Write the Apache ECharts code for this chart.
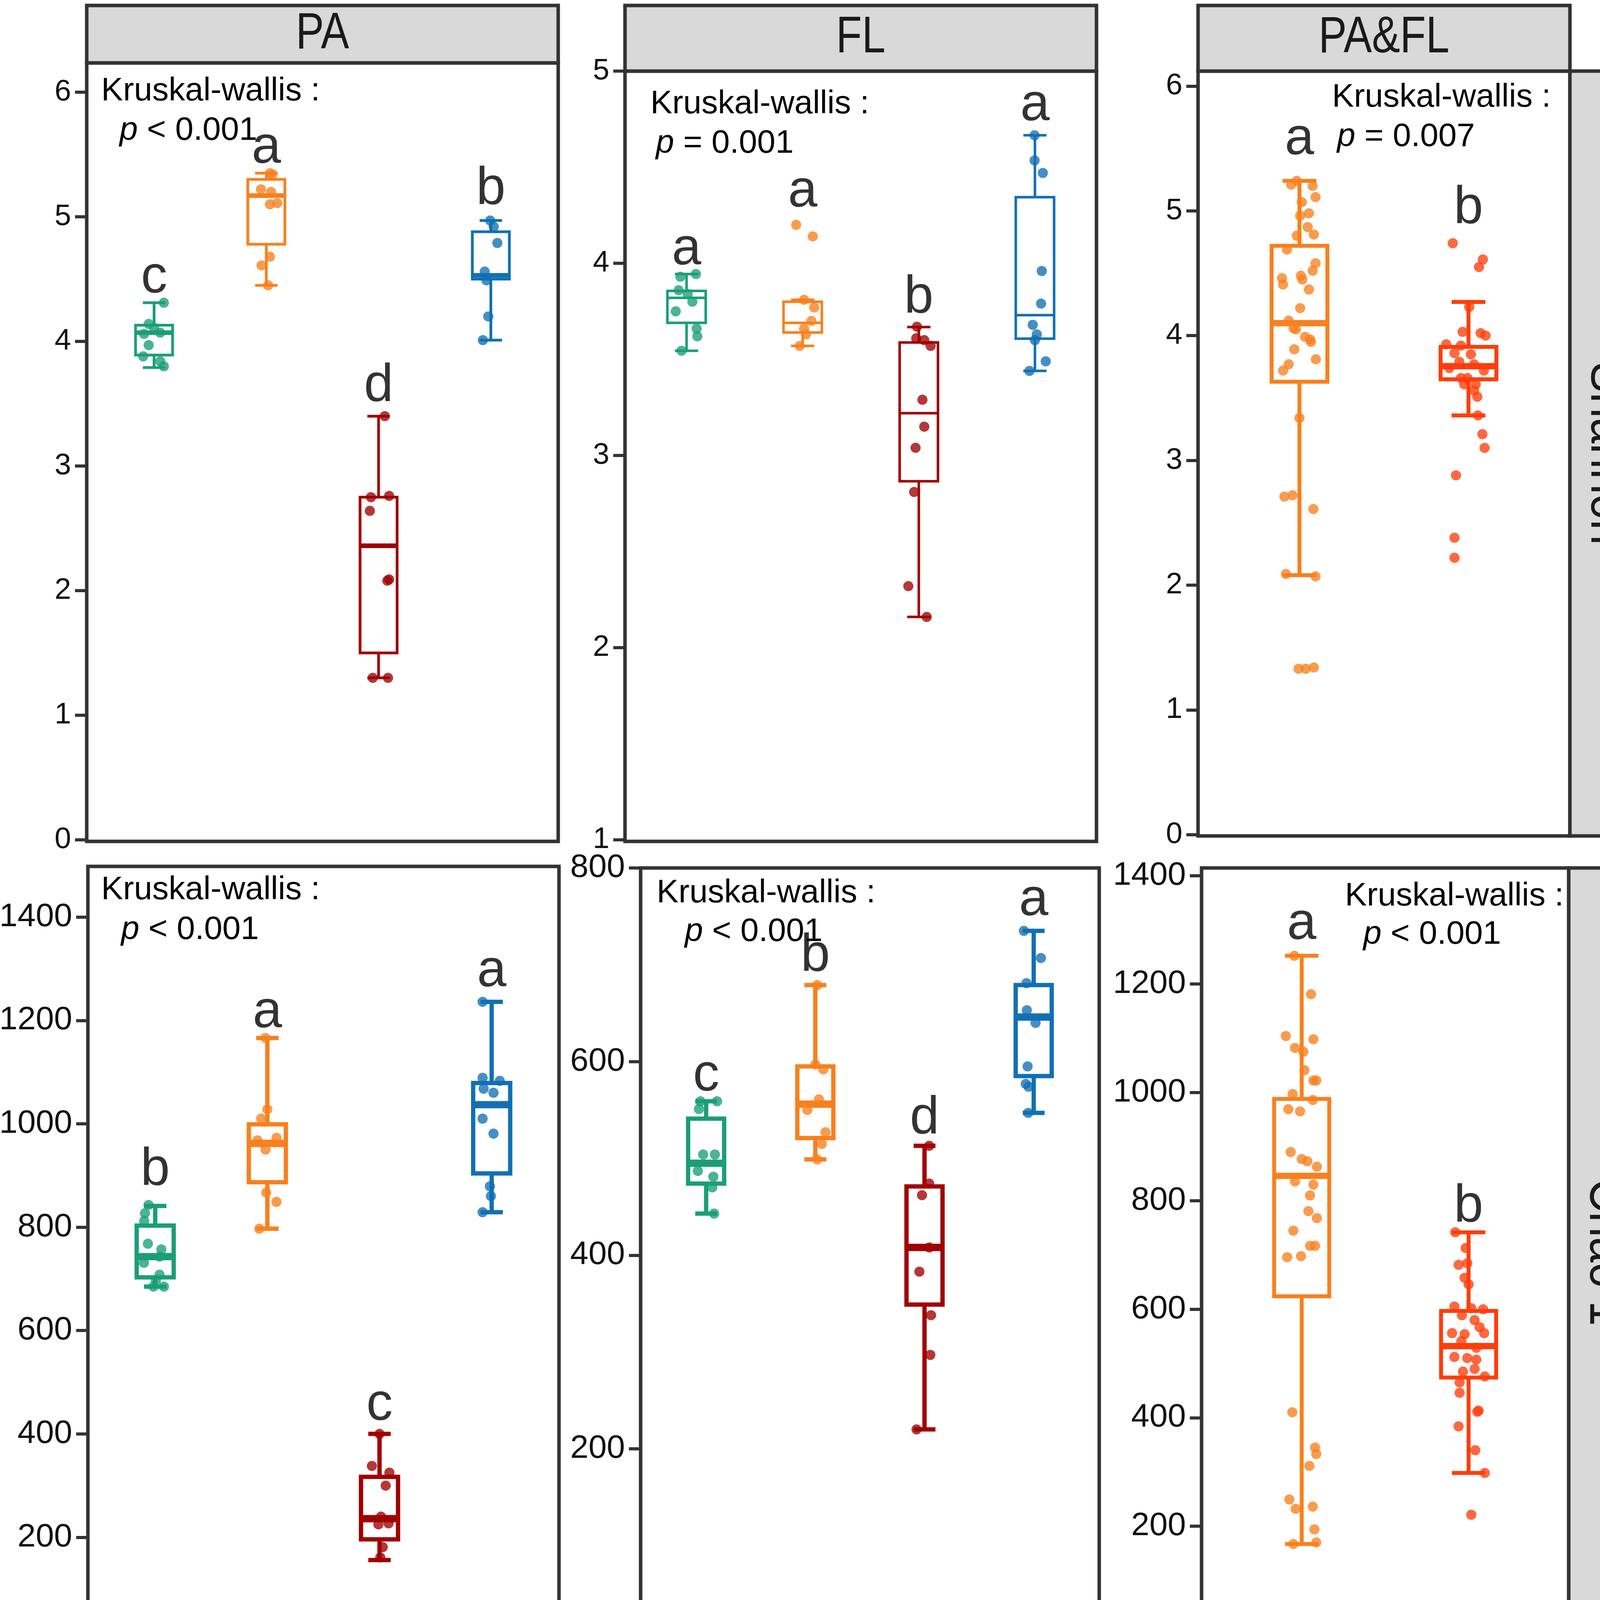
<!DOCTYPE html>
<html>
<head>
<meta http-equiv="Content-Type" content="text/html; charset=utf-8" />
<title>alpha diversity</title>
<style type="text/css">
html, body { margin: 0; width: 100%; height: 100%; background: #fff; overflow: hidden; }
#main { width: 4212px; height: 4536px; }
</style>
</head>
<body>
<div id="main"></div>
<script src="https://cdn.jsdelivr.net/npm/echarts@6/dist/echarts.min.js"></script>
<script>
// categories
var seasons = ['Spring', 'Summer', 'Autumn', 'Winter'];
var fractions = ['PA', 'FL'];

// y tick labels
var shannonPATicks = [0, 1, 2, 3, 4, 5, 6];
var shannonFLTicks = [1, 2, 3, 4, 5];
var shannonAllTicks = [0, 1, 2, 3, 4, 5, 6];
var chaoPATicks = [0, 200, 400, 600, 800, 1000, 1200, 1400];
var chaoFLTicks = [0, 200, 400, 600, 800];
var chaoAllTicks = [0, 200, 400, 600, 800, 1000, 1200, 1400];

// box stats: [lower whisker, Q1, median, Q3, upper whisker]
var shannonPABox = [
    [3.79, 3.89, 4.07, 4.13, 4.31],
    [4.45, 4.78, 5.17, 5.30, 5.35],
    [1.30, 1.50, 2.36, 2.75, 3.40],
    [4.01, 4.50, 4.53, 4.88, 4.97]
];
var shannonPAPts = [
    [4.31, 4.14, 4.11, 4.06, 4.07, 3.97, 3.88, 3.84, 3.80],
    [5.35, 5.34, 5.22, 5.20, 5.10, 5.11, 4.68, 4.61, 4.45],
    [3.40, 2.75, 2.76, 2.64, 2.08, 2.09, 1.30, 1.30],
    [4.97, 4.92, 4.79, 4.56, 4.49, 4.20, 4.01]
];
var shannonPAJit = [
    [0.087, -0.048, 0, -0.09, 0.055, -0.048, -0.097, 0.055, 0.087],
    [0.032, 0.055, -0.048, 0.042, 0.032, 0.097, 0.032, -0.042, 0.016],
    [0.055, -0.068, 0.094, -0.078, 0.078, 0.094, -0.052, 0.084],
    [-0.006, 0.026, 0.058, -0.055, -0.039, -0.023, -0.071]
];
var shannonPALetters = ['c', 'a', 'd', 'b'];
var shannonPALetterY = [4.51, 5.55, 3.64, 5.22];

var shannonFLBox = [
    [3.545, 3.69, 3.82, 3.856, 3.944],
    [3.57, 3.64, 3.69, 3.80, 3.81],
    [2.16, 2.866, 3.22, 3.588, 3.668],
    [3.44, 3.608, 3.73, 4.344, 4.666]
];
var shannonFLPts = [
    [3.93, 3.944, 3.86, 3.84, 3.80, 3.75, 3.66, 3.62, 3.545],
    [4.20, 4.14, 3.81, 3.77, 3.70, 3.66, 3.63, 3.57],
    [3.67, 3.61, 3.60, 3.57, 3.29, 3.15, 3.04, 2.81, 2.32, 2.16],
    [4.666, 4.535, 4.47, 3.96, 3.79, 3.68, 3.63, 3.60, 3.49, 3.44]
];
var shannonFLJit = [
    [-0.053, 0.081, -0.068, 0.009, 0.05, -0.093, 0.087, 0.093, -0.043],
    [-0.056, 0.087, 0.012, 0.099, 0.075, 0.012, 0.028, -0.025],
    [-0.016, -0.022, 0.047, 0.102, 0.031, 0.047, -0.028, -0.04, -0.09, 0.068],
    [-0.003, -0.003, 0.068, 0.059, 0.053, -0.019, 0.016, 0, 0.093, -0.047]
];
var shannonFLLetters = ['a', 'a', 'b', 'a'];
var shannonFLLetterY = [4.07, 4.37, 3.82, 4.82];

var shannonAllBox = [
    [2.08, 3.63, 4.10, 4.72, 5.24],
    [3.36, 3.65, 3.755, 3.91, 4.27]
];
var shannonAllPts = [
    [5.24, 5.21, 5.20, 5.11, 5.07, 4.98, 4.96, 4.87, 4.80, 4.81, 4.69, 4.46, 4.41, 4.48, 4.45, 4.52, 4.58, 4.37, 4.22,
     4.12, 4.05, 4.06, 3.99, 3.95, 3.97, 3.89, 3.81, 3.77, 3.72, 3.34, 2.71, 2.72, 2.61, 2.09, 2.07, 1.33, 1.33, 1.34],
    [4.74, 4.61, 4.55, 4.23, 4.03, 4.02, 4.00, 3.93, 3.92, 3.86, 3.85, 3.79, 3.77, 3.74, 3.72, 3.66, 3.66, 3.61, 3.61,
     3.56, 3.51, 3.36, 3.21, 3.10, 2.88, 2.38, 2.22]
];
var shannonAllJit = [
    [-0.016, -0.049, 0.078, 0.095, 0.014, 0.056, 0.004, 0.049, -0.016, 0.085, -0.074, -0.103, -0.097, 0.008, 0.017, 0.078,
     0.095, 0.056, 0.004, -0.064, -0.021, -0.035, 0.033, 0.068, 0.062, -0.031, 0.097, -0.064, -0.097, 0, -0.089, -0.041,
     0.082, -0.08, 0.095, -0.006, 0.037, 0.085],
    [-0.093, 0.085, 0.062, 0.004, -0.035, 0.072, 0.101, -0.132, -0.045, -0.083, 0.014, -0.054, 0.033, -0.113, 0.091,
     -0.045, -0.006, 0.043, -0.025, 0.033, 0.052, 0.056, 0.082, 0.095, -0.074, -0.083, -0.083]
];
var shannonAllLetters = ['a', 'b'];
var shannonAllLetterY = [5.57, 5.02];

var chaoPABox = [
    [685, 703, 743, 803, 841],
    [797, 887, 962, 999, 1166],
    [156, 196, 236, 317, 400],
    [829, 904, 1037, 1079, 1236]
];
var chaoPAPts = [
    [843, 827, 812, 768, 757, 743, 731, 708, 697, 685, 685],
    [1166, 1028, 1010, 968, 973, 950, 867, 849, 797],
    [400, 338, 325, 300, 240, 225, 227, 181, 161],
    [1236, 1089, 1083, 1068, 1060, 1010, 981, 879, 860, 829]
];
var chaoPAJit = [
    [-0.059, -0.091, -0.098, -0.065, 0.055, 0.039, -0.101, 0.039, 0.007, -0.016, 0.078],
    [-0.016, 0, -0.055, -0.088, 0.081, -0.016, -0.01, 0.081, -0.072],
    [0, -0.068, 0.088, 0.055, 0.013, -0.01, 0.081, 0.029, 0.007],
    [-0.081, -0.081, 0.072, -0.072, 0.016, -0.081, 0.016, -0.016, -0.007, -0.081]
];
var chaoPALetters = ['b', 'a', 'c', 'a'];
var chaoPALetterY = [910, 1215, 455, 1294];

var chaoFLBox = [
    [443, 474, 495, 541, 559],
    [499, 521, 556, 595, 679],
    [220, 349, 408, 471, 513],
    [547, 585, 646, 679, 735]
];
var chaoFLPts = [
    [559, 559, 551, 504, 504, 487, 481, 470, 443],
    [679, 597, 592, 561, 550, 527, 515, 499],
    [513, 474, 462, 408, 383, 338, 297, 220],
    [735, 707, 681, 653, 640, 595, 577, 574, 547]
];
var chaoFLJit = [
    [-0.053, 0.1, -0.066, -0.027, 0.08, -0.076, 0.066, 0.056, 0.073],
    [0.017, 0, 0.073, 0.033, -0.073, 0.093, 0.06, 0.017],
    [0.043, 0.043, -0.023, 0.043, -0.047, 0.06, 0.053, -0.073],
    [-0.09, 0.066, -0.066, -0.063, 0.017, -0.056, -0.073, -0.047, -0.05]
];
var chaoFLLetters = ['c', 'b', 'd', 'a'];
var chaoFLLetterY = [585, 709, 541, 766];

var chaoAllBox = [
    [167, 624, 846, 988, 1252],
    [298, 474, 532, 597, 742]
];
var chaoAllPts = [
    [1252, 1181, 1104, 1098, 1082, 1075, 1041, 1022, 1022, 986, 997, 969, 965, 890, 877, 873, 863, 830, 836, 810,
     781, 768, 745, 717, 717, 696, 698, 410, 345, 333, 311, 249, 232, 236, 194, 170, 167],
    [742, 713, 682, 685, 658, 646, 605, 602, 600, 589, 580, 567, 556, 554, 556, 541, 529, 512, 510, 507,
     485, 490, 476, 465, 446, 411, 413, 384, 340, 298, 221]
];
var chaoAllJit = [
    [-0.044, 0.056, -0.095, 0.07, -0.04, 0.01, 0.016, 0.07, 0.087, 0.066, -0.054, -0.08, -0.01, -0.066, 0, 0.034, 0.091,
     0.07, -0.04, 0.05, 0.04, 0.091, -0.05, 0.05, 0.08, -0.087, -0.004, -0.056, 0.08, 0.087, 0.046, -0.074, -0.036,
     0.066, 0.076, 0.087, -0.05],
    [-0.08, -0.018, -0.06, -0.008, -0.024, 0, -0.085, 0.016, 0.087, -0.04, 0.036, 0.066, -0.099, -0.024, 0.093, -0.044,
     0.046, -0.085, -0.008, 0.046, -0.034, 0.036, 0.097, -0.054, -0.054, 0.052, 0.06, -0.06, 0.04, 0.097, 0.016]
];
var chaoAllLetters = ['a', 'b'];
var chaoAllLetterY = [1310, 789];

// styles
var seasonColors = ['#1A9E77', '#F8801E', '#A00000', '#1170B4'];
var fractionColors = ['#F8801E', '#FF3D0A'];
var FONT = '"Liberation Sans", Arial, Helvetica, sans-serif';

// layout of the six panels (pixels); fat = median line thickness factor
var panels = [
    { box: shannonPABox, pts: shannonPAPts, jit: shannonPAJit, letters: shannonPALetters, letterY: shannonPALetterY,
      ticks: shannonPATicks, cats: seasons, colors: seasonColors,
      grid: [222, 161, 1207, 1993], x: [0.4, 4.6], y: [-0.0125, 6.235], lw: 7, fat: 1.7, bottom: false, tickFont: 76,
      kw: [259, 234], p: [306, 335], pText: ' < 0.001' },
    { box: shannonFLBox, pts: shannonFLPts, jit: shannonFLJit, letters: shannonFLLetters, letterY: shannonFLLetterY,
      ticks: shannonFLTicks, cats: seasons, colors: seasonColors,
      grid: [1600, 182, 1207, 1972], x: [0.47, 4.53], y: [0.992, 5.0], lw: 6.5, fat: 1, bottom: false, tickFont: 76,
      kw: [1665, 267], p: [1679, 368], pText: ' = 0.001' },
    { box: shannonAllBox, pts: shannonAllPts, jit: shannonAllJit, letters: shannonAllLetters, letterY: shannonAllLetterY,
      ticks: shannonAllTicks, cats: fractions, colors: fractionColors,
      grid: [3067, 182, 952, 1958], x: [0.4, 2.6], y: [-0.01, 6.12], lw: 10, fat: 1.6, bottom: false, tickFont: 76,
      kw: [3410, 250], p: [3423, 351], pText: ' = 0.007' },
    { box: chaoPABox, pts: chaoPAPts, jit: chaoPAJit, letters: chaoPALetters, letterY: chaoPALetterY,
      ticks: chaoPATicks, cats: seasons, colors: seasonColors,
      grid: [225, 2218, 1206, 1994], x: [0.4, 4.6], y: [-9, 1498], lw: 11, fat: 1.7, bottom: true, rotate: 45,
      tickFont: 84, kw: [259, 2279], p: [310, 2381], pText: ' < 0.001' },
    { box: chaoFLBox, pts: chaoFLPts, jit: chaoFLJit, letters: chaoFLLetters, letterY: chaoFLLetterY,
      ticks: chaoFLTicks, cats: seasons, colors: seasonColors,
      grid: [1640, 2222, 1174, 1990], x: [0.4, 4.6], y: [-3, 800], lw: 11, fat: 1.7, bottom: true, rotate: 45,
      tickFont: 84, kw: [1681, 2287], p: [1753, 2386], pText: ' < 0.001' },
    { box: chaoAllBox, pts: chaoAllPts, jit: chaoAllJit, letters: chaoAllLetters, letterY: chaoAllLetterY,
      ticks: chaoAllTicks, cats: fractions, colors: fractionColors,
      grid: [3076, 2222, 940, 1968], x: [0.4, 2.6], y: [-4, 1414], lw: 10, fat: 1.6, bottom: true, rotate: 0,
      tickFont: 84, kw: [3443, 2295], p: [3490, 2393], pText: ' < 0.001' }
];

var chart = echarts.init(document.getElementById('main'));
var grids = [], xAxes = [], yAxes = [], series = [], graphics = [];

function boxRenderer(p) {
    return function (params, api) {
        var x = api.value(0);
        var at = function (k) { return api.coord([x, api.value(k)]); };
        var lo = at(1), q1 = at(2), md = at(3), q3 = at(4), hi = at(5);
        var bw = api.size([0.33, 0])[0], cw = api.size([0.2, 0])[0];
        var cx = lo[0], c = p.colors[params.dataIndex];
        var ls = function () { return { stroke: c, lineWidth: p.lw }; };
        return {
            type: 'group',
            children: [
                { type: 'line', shape: { x1: cx, y1: q3[1], x2: cx, y2: hi[1] }, style: ls() },
                { type: 'line', shape: { x1: cx, y1: q1[1], x2: cx, y2: lo[1] }, style: ls() },
                { type: 'line', shape: { x1: cx - cw / 2, y1: hi[1], x2: cx + cw / 2, y2: hi[1] }, style: ls() },
                { type: 'line', shape: { x1: cx - cw / 2, y1: lo[1], x2: cx + cw / 2, y2: lo[1] }, style: ls() },
                { type: 'rect', shape: { x: cx - bw / 2, y: q3[1], width: bw, height: q1[1] - q3[1] },
                  style: { fill: '#fff', stroke: c, lineWidth: p.lw } },
                { type: 'line', shape: { x1: cx - bw / 2, y1: md[1], x2: cx + bw / 2, y2: md[1] },
                  style: { stroke: c, lineWidth: p.lw * p.fat } }
            ]
        };
    };
}

panels.forEach(function (p, i) {
    var pos = p.cats.map(function (c, k) { return k + 1; });
    var rot = p.rotate || 0;
    grids.push({
        left: p.grid[0], top: p.grid[1], width: p.grid[2], height: p.grid[3],
        show: true, borderColor: '#333', borderWidth: 9, backgroundColor: '#fff',
        containLabel: false, outerBoundsMode: 'none'
    });
    xAxes.push({
        gridIndex: i, type: 'value', min: p.x[0], max: p.x[1],
        axisLine: { show: false }, splitLine: { show: false },
        axisTick: { show: p.bottom, length: 28, lineStyle: { color: '#333', width: 8 }, customValues: pos },
        axisLabel: {
            show: p.bottom, customValues: pos, rotate: rot, margin: rot ? 26 : 30,
            align: rot ? 'right' : 'center', verticalAlign: 'top',
            fontSize: 100, fontFamily: FONT, color: '#000',
            formatter: function (v) { return p.cats[Math.round(v) - 1]; }
        }
    });
    yAxes.push({
        gridIndex: i, type: 'value', min: p.y[0], max: p.y[1],
        axisLine: { show: false }, splitLine: { show: false },
        axisTick: { show: true, length: 30, lineStyle: { color: '#333', width: 8 }, customValues: p.ticks },
        axisLabel: { customValues: p.ticks, margin: 40, fontSize: p.tickFont, fontFamily: FONT, color: '#111',
                     formatter: function (v) { return String(v); } }
    });

    series.push({
        type: 'custom', xAxisIndex: i, yAxisIndex: i, z: 2, silent: true,
        data: p.box.map(function (b, g) { return [g + 1].concat(b); }),
        encode: { x: 0, y: [1, 2, 3, 4, 5] },
        renderItem: boxRenderer(p)
    });

    var pts = [];
    p.pts.forEach(function (arr, g) {
        arr.forEach(function (v, k) {
            pts.push({ value: [g + 1 + p.jit[g][k], v], itemStyle: { color: p.colors[g] } });
        });
    });
    series.push({
        type: 'scatter', xAxisIndex: i, yAxisIndex: i, z: 3, silent: true,
        symbolSize: 26, itemStyle: { opacity: 0.78 }, data: pts
    });

    series.push({
        type: 'scatter', xAxisIndex: i, yAxisIndex: i, z: 4, silent: true,
        symbolSize: 0, itemStyle: { color: 'transparent' },
        data: p.letters.map(function (t, g) { return [g + 1, p.letterY[g], t]; }),
        label: {
            show: true, position: 'inside', formatter: function (q) { return q.value[2]; },
            fontSize: 135, fontFamily: FONT, color: '#000'
        }
    });

    graphics.push({
        type: 'text', z: 10,
        style: { text: 'Kruskal-wallis :', x: p.kw[0], y: p.kw[1], fontSize: 84, fontFamily: FONT,
                 fill: '#000', align: 'left', verticalAlign: 'middle' }
    });
    graphics.push({
        type: 'text', z: 10,
        style: { text: '{i|p}' + p.pText, x: p.p[0], y: p.p[1], fontSize: 84, fontFamily: FONT,
                 fill: '#000', align: 'left', verticalAlign: 'middle',
                 rich: { i: { fontStyle: 'italic', fontSize: 84, fontFamily: FONT, fill: '#000' } } }
    });
});

// facet strips (text squeezed horizontally like a narrow face)
var strips = [
    { r: [222, 14, 1207, 147], t: 'PA', rot: 0, fs: 132, sx: 0.82 },
    { r: [1600, 14, 1207, 168], t: 'FL', rot: 0, fs: 132, sx: 0.82 },
    { r: [3067, 14, 952, 168], t: 'PA&FL', rot: 0, fs: 132, sx: 0.82 },
    { r: [4019, 182, 184, 1958], t: 'Shannon', rot: -Math.PI / 2, fs: 136, sx: 0.86 },
    { r: [4016, 2222, 185, 1968], t: 'Chao 1', rot: -Math.PI / 2, fs: 136, sx: 0.86 }
];
strips.forEach(function (s) {
    graphics.push({
        type: 'rect', z: 5,
        shape: { x: s.r[0], y: s.r[1], width: s.r[2], height: s.r[3] },
        style: { fill: '#D9D9D9', stroke: '#333', lineWidth: 9 }
    });
    graphics.push({
        type: 'text', z: 6,
        x: s.r[0] + s.r[2] / 2, y: s.r[1] + s.r[3] / 2, rotation: s.rot, scaleX: s.sx,
        style: { text: s.t, x: 0, y: 0, fontSize: s.fs, fontFamily: FONT, fill: '#1a1a1a',
                 align: 'center', verticalAlign: 'middle' }
    });
});

chart.setOption({
    backgroundColor: '#fff',
    animation: false,
    grid: grids,
    xAxis: xAxes,
    yAxis: yAxes,
    series: series,
    graphic: graphics
});
</script>
</body>
</html>
